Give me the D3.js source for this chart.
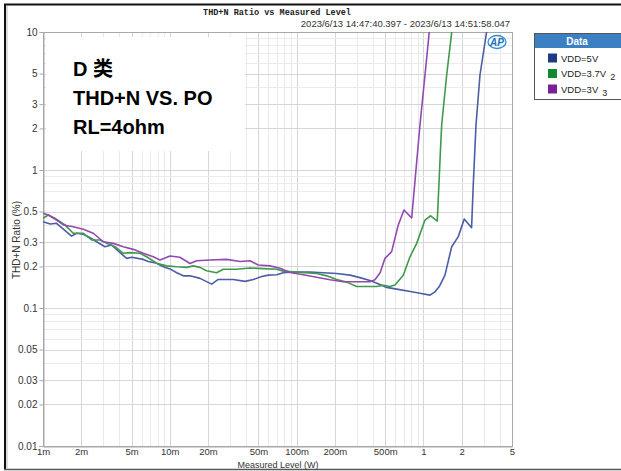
<!DOCTYPE html>
<html><head><meta charset="utf-8">
<script src="https://cdn.jsdelivr.net/npm/d3@7"></script>
<style>
html,body{margin:0;padding:0;background:#fff;}
svg{display:block;}
</style></head>
<body>
<svg id="chart" width="621" height="471"></svg>
<script>
// ---- data ----
const seriesNames = ["VDD=5V", "VDD=3.7V", "VDD=3V"];
const seriesSub = ["", "2", "3"];
const blueP = [0.001,0.00114,0.00128,0.00168,0.00184,0.00208,0.00235,0.00273,0.00308,0.00348,0.00405,0.00457,0.00501,0.00618,0.00677,0.00788,0.00889,0.01004,0.01134,0.01278,0.01443,0.01731,0.0214,0.0241,0.0317,0.0392,0.0456,0.0531,0.0598,0.0697,0.0786,0.0887,0.1276,0.1624,0.2072,0.264,0.316,0.379,0.455,0.513,0.616,0.809,0.940,1.127,1.234,1.335,1.48,1.672,1.885,2.10,2.40,2.474,2.60,2.795,3.17];
const blueT = [0.422,0.406,0.411,0.332,0.348,0.342,0.323,0.297,0.278,0.286,0.252,0.229,0.233,0.225,0.217,0.211,0.199,0.192,0.180,0.171,0.171,0.164,0.149,0.161,0.161,0.156,0.161,0.169,0.173,0.174,0.180,0.182,0.182,0.180,0.178,0.173,0.166,0.158,0.148,0.141,0.137,0.131,0.128,0.124,0.131,0.143,0.173,0.278,0.329,0.441,0.382,0.779,2.12,4.88,10.34];
const greenP = [0.001,0.0011,0.00124,0.00149,0.00173,0.00208,0.00242,0.00282,0.00318,0.0037,0.0043,0.00486,0.00582,0.00657,0.00788,0.00945,0.01134,0.0136,0.0153,0.0173,0.0195,0.0234,0.0264,0.0337,0.0429,0.0546,0.0697,0.0786,0.1002,0.144,0.173,0.207,0.248,0.298,0.428,0.483,0.545,0.597,0.694,0.784,0.886,1.029,1.142,1.287,1.364,1.394,1.527,1.681];
const greenT = [0.447,0.472,0.447,0.400,0.348,0.348,0.311,0.311,0.294,0.278,0.249,0.252,0.249,0.235,0.211,0.202,0.199,0.197,0.202,0.197,0.186,0.180,0.191,0.191,0.195,0.193,0.191,0.185,0.182,0.178,0.171,0.161,0.154,0.143,0.143,0.146,0.143,0.147,0.173,0.235,0.294,0.434,0.466,0.427,1.396,2.12,4.88,10.34];
const purpleP = [0.001,0.0011,0.00128,0.00145,0.00173,0.00208,0.00249,0.00299,0.00358,0.0043,0.00515,0.00618,0.00741,0.00837,0.01004,0.0120,0.01443,0.0163,0.02075,0.0281,0.0358,0.0429,0.0499,0.0617,0.0740,0.0887,0.1129,0.144,0.1834,0.2336,0.298,0.379,0.415,0.455,0.498,0.562,0.634,0.703,0.809,0.874,0.940,1.062,1.113];
const purpleT = [0.486,0.472,0.434,0.400,0.388,0.372,0.348,0.302,0.294,0.278,0.266,0.249,0.235,0.223,0.238,0.233,0.210,0.220,0.223,0.225,0.217,0.220,0.205,0.202,0.194,0.181,0.174,0.167,0.160,0.155,0.155,0.155,0.160,0.179,0.229,0.256,0.400,0.513,0.449,1.0,2.12,6.48,10.05];
const xTicks = [0.001,0.002,0.005,0.01,0.02,0.05,0.1,0.2,0.5,1,2,5];
const xTickLabels = ["1m","2m","5m","10m","20m","50m","100m","200m","500m","1","2","5"];
const yTicks = [10,5,3,2,1,0.5,0.3,0.2,0.1,0.05,0.03,0.02,0.01];
const yTickLabels = ["10","5","3","2","1","0.5","0.3","0.2","0.1","0.05","0.03","0.02","0.01"];
const lineColors = ["#4b5ea6","#3f9a4c","#9448b2"];
const legendColors = ["#1e3a82","#0f8a2f","#7a2096"];

// ---- layout ----
const svg = d3.select("#chart");
const L = 43, R = 512, T = 32, B = 446;
const x = d3.scaleLog().domain([0.001, 5]).range([L, R]);
const y = d3.scaleLog().domain([0.01, 10]).range([B, T]);

// outer frame
svg.append("rect").attr("x",0).attr("y",0).attr("width",621).attr("height",471).attr("fill","#fff");
svg.append("line").attr("x1",4).attr("x2",621).attr("y1",4.5).attr("y2",4.5).attr("stroke","#111").attr("stroke-width",2);
svg.append("line").attr("x1",5).attr("x2",5).attr("y1",4).attr("y2",470).attr("stroke","#111").attr("stroke-width",2);
svg.append("line").attr("x1",7).attr("x2",7).attr("y1",6).attr("y2",468).attr("stroke","#bbb").attr("stroke-width",1);
svg.append("line").attr("x1",4).attr("x2",621).attr("y1",469.5).attr("y2",469.5).attr("stroke","#555").attr("stroke-width",1.5);

// grid
const g = svg.append("g");
const xGrid = [], yGrid = [];
[0.001,0.01,0.1,1].forEach(d => { for (let k=1;k<=9;k++){ const v=k*d; if (v<=5.0001) xGrid.push(v);} });
[0.01,0.1,1].forEach(d => { for (let k=1;k<=9;k++) yGrid.push(k*d); });
yGrid.push(10);
g.selectAll(".xg").data(xGrid).enter().append("line")
  .attr("x1",d=>Math.round(x(d))+0.5).attr("x2",d=>Math.round(x(d))+0.5).attr("y1",T).attr("y2",B)
  .attr("stroke", d => xTicks.some(t=>Math.abs(t-d)/d<1e-6) ? "#d6d6d6" : "#e9e9e9").attr("stroke-width",1);
g.selectAll(".yg").data(yGrid).enter().append("line")
  .attr("y1",d=>Math.round(y(d))+0.5).attr("y2",d=>Math.round(y(d))+0.5).attr("x1",L).attr("x2",R)
  .attr("stroke", d => yTicks.some(t=>Math.abs(t-d)/d<1e-6) ? "#d6d6d6" : "#ebebeb").attr("stroke-width",1);

// plot border
svg.append("rect").attr("x",L+0.5).attr("y",T+0.5).attr("width",R-L).attr("height",B-T)
  .attr("fill","none").attr("stroke","#a8a8a8").attr("stroke-width",1);

// axes
const fontTick = "'Liberation Sans', Arial, sans-serif";
const yAxis = d3.axisLeft(y).tickValues(yTicks).tickFormat((d,i)=>yTickLabels[i]).tickSize(4).tickPadding(2);
const ya = svg.append("g").attr("transform",`translate(${L+0.5},0)`).call(yAxis);
ya.select(".domain").attr("stroke","#a8a8a8");
ya.selectAll(".tick line").attr("stroke","#a8a8a8");
ya.selectAll("text").attr("fill","#333").style("font-family",fontTick).style("font-size","10px");
const xAxis = d3.axisBottom(x).tickValues(xTicks).tickFormat((d,i)=>xTickLabels[i]).tickSize(0).tickPadding(2);
const xa = svg.append("g").attr("transform",`translate(0,${B+0.5})`).call(xAxis);
xa.select(".domain").attr("stroke","#a8a8a8");
xa.selectAll("text").attr("fill","#333").style("font-family",fontTick).style("font-size","9.5px");

// axis titles
svg.append("text").attr("x",278).attr("y",468).attr("text-anchor","middle")
  .style("font-family",fontTick).style("font-size","9px").attr("fill","#333").text("Measured Level (W)");
svg.append("text").attr("transform","translate(20,240) rotate(-90)").attr("text-anchor","middle")
  .style("font-family",fontTick).style("font-size","10px").attr("fill","#333").text("THD+N Ratio (%)");

// titles
svg.append("text").attr("x",277).attr("y",15).attr("text-anchor","middle")
  .style("font-family","'Liberation Mono', monospace").style("font-size","8.5px").style("font-weight","bold")
  .attr("fill","#222").text("THD+N Ratio vs Measured Level");
svg.append("text").attr("x",510).attr("y",27).attr("text-anchor","end")
  .style("font-family",fontTick).style("font-size","9.5px").attr("fill","#333")
  .text("2023/6/13 14:47:40.397 - 2023/6/13 14:51:58.047");

// lines
svg.append("clipPath").attr("id","clip").append("rect").attr("x",L).attr("y",T).attr("width",R-L).attr("height",B-T);
const series = [[blueP,blueT],[greenP,greenT],[purpleP,purpleT]];
const line = d3.line().x(d=>x(d[0])).y(d=>y(d[1]));
const lg = svg.append("g").attr("clip-path","url(#clip)");
series.forEach((s,i) => {
  const pts = s[0].map((p,j)=>[p, s[1][j]]);
  lg.append("path").datum(pts).attr("d",line).attr("fill","none")
    .attr("stroke",lineColors[i]).attr("stroke-width",1.6).attr("stroke-linejoin","round");
});

// AP logo
const ap = svg.append("g").attr("transform","translate(497,42)");
ap.append("ellipse").attr("rx",9).attr("ry",6.5).attr("fill","none").attr("stroke","#2a8fd0").attr("stroke-width",1.3);
ap.append("text").attr("x",0).attr("y",3.5).attr("text-anchor","middle")
  .style("font-family",fontTick).style("font-size","10px").style("font-weight","bold").style("font-style","italic")
  .attr("fill","#1f6fb8").text("AP");

// annotation box
svg.append("rect").attr("x",46).attr("y",37).attr("width",199).attr("height",114).attr("fill","#fff");
const annFont = "'Liberation Sans', 'Noto Sans CJK SC', Arial, sans-serif";
const ann = [["D 类",76],["THD+N VS. PO",105],["RL=4ohm",134]];
ann.forEach(a => {
  svg.append("text").attr("x",73).attr("y",a[1])
    .style("font-family",annFont).style("font-size","20px").style("font-weight","bold")
    .attr("fill","#000").text(a[0]);
});

// legend
const leg = svg.append("g");
leg.append("rect").attr("x",534.5).attr("y",33.5).attr("width",90).attr("height",66)
  .attr("fill","#fff").attr("stroke","#555").attr("stroke-width",1);
leg.append("rect").attr("x",535).attr("y",34).attr("width",89).attr("height",14).attr("fill","#3b80c3");
leg.append("text").attr("x",577).attr("y",45).attr("text-anchor","middle")
  .style("font-family",fontTick).style("font-size","10px").style("font-weight","bold").attr("fill","#fff").text("Data");
seriesNames.forEach((n,i) => {
  const cy = 58 + i*15.5;
  leg.append("rect").attr("x",548).attr("y",cy-4.5).attr("width",9).attr("height",9).attr("fill",legendColors[i]);
  const t = leg.append("text").attr("x",561).attr("y",cy+3.5)
    .style("font-family",fontTick).style("font-size","9.5px").attr("fill","#222");
  t.append("tspan").text(n);
  if (seriesSub[i]) t.append("tspan").attr("dx",4).attr("dy",3).style("font-size","9px").text(seriesSub[i]);
});
</script>
</body></html>
